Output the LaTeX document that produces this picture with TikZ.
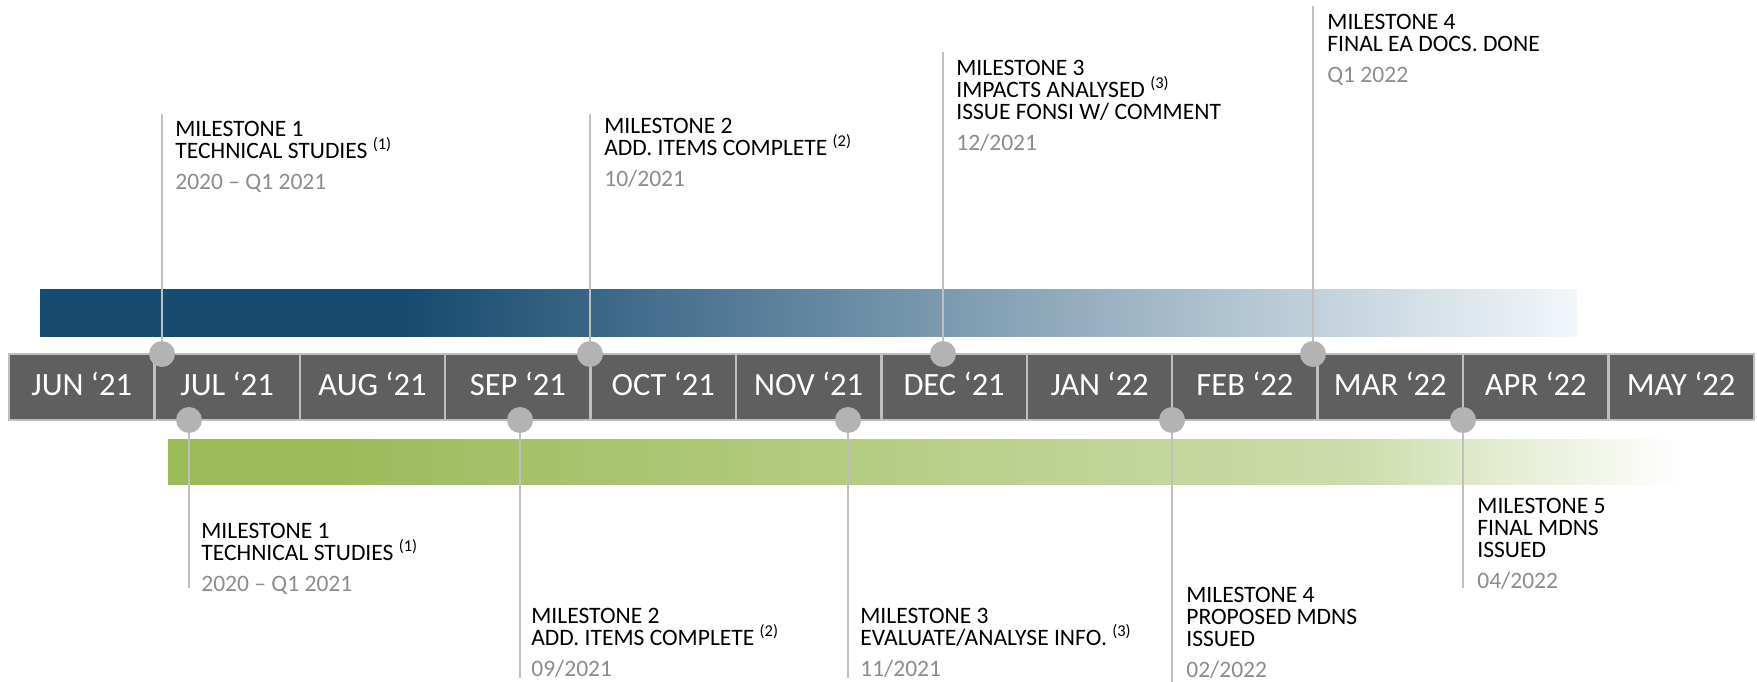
\documentclass[tikz,border=0pt]{standalone}
\usepackage{fontspec}
\setmainfont{Carlito}
\usepackage{xcolor}
\usepackage{tikz}

\definecolor{monthgray}{HTML}{5F5F5F}
\definecolor{linegray}{HTML}{BFBFBF}
\definecolor{dotgray}{HTML}{B3B3B3}
\definecolor{dategray}{HTML}{8C8C8C}
\definecolor{bluedark}{HTML}{174B70}
\definecolor{bluelight}{HTML}{F2F7FA}
\definecolor{greendark}{HTML}{9BBB59}
\definecolor{greenmid}{HTML}{CCDCAA}

\pgfdeclarehorizontalshading{bluefade}{100bp}{color(0bp)=(bluedark); color(37bp)=(bluedark); color(75bp)=(bluelight); color(100bp)=(bluelight)}
\pgfdeclarehorizontalshading{greenfade}{100bp}{color(0bp)=(greendark); color(30bp)=(greendark); color(64bp)=(greenmid); color(75bp)=(white); color(100bp)=(white)}

\begin{document}
\begin{tikzpicture}[x=0.02cm,y=-0.02cm,
  month/.style={draw=linegray,line width=1.4pt,fill=monthgray,text=white,
    minimum width=2.908cm,minimum height=1.32cm,inner sep=0pt,outer sep=0pt,
    text depth=3.5pt,font=\fontsize{18.5}{22}\selectfont},
  dot/.style={circle,fill=dotgray,minimum size=0.52cm,inner sep=0pt},
  stem/.style={linegray,line width=1.3pt},
  mstext/.style={anchor=north west,align=left,inner sep=0pt,
    font=\fontsize{13.4}{12.5}\selectfont}]

\useasboundingbox (0,0) rectangle (1757,682);

% bars
\shade[shading=bluefade] (40,289) rectangle (1577,336);
\shade[shading=greenfade] (168,439) rectangle (1681,484);

% months
\foreach \m [count=\i] in {JUN ‘21,JUL ‘21,AUG ‘21,SEP ‘21,OCT ‘21,NOV ‘21,
    DEC ‘21,JAN ‘22,FEB ‘22,MAR ‘22,APR ‘22,MAY ‘22}
  \node[month] (m\i) at ({9+145.4*(\i-0.5)},387) {\m};

% top milestones
\node[dot] (t1) at (162,354) {};
\node[dot] (t2) at (590,354) {};
\node[dot] (t3) at (943,354) {};
\node[dot] (t4) at (1313,354) {};
\coordinate (t1end) at (162,114);
\coordinate (t2end) at (590,114);
\coordinate (t3end) at (943,52);
\coordinate (t4end) at (1313,6);
\draw[stem] (t1) -- (t1end);
\draw[stem] (t2) -- (t2end);
\draw[stem] (t3) -- (t3end);
\draw[stem] (t4) -- (t4end);

\node[mstext] (t1txt) at (175,121) {MILESTONE 1\\TECHNICAL STUDIES \textsuperscript{(1)}\\[5pt]\textcolor{dategray}{2020 – Q1 2021}};
\node[mstext] (t2txt) at (604,118) {MILESTONE 2\\ADD. ITEMS COMPLETE \textsuperscript{(2)}\\[5pt]\textcolor{dategray}{10/2021}};
\node[mstext] (t3txt) at (956,60) {MILESTONE 3\\IMPACTS ANALYSED \textsuperscript{(3)}\\ISSUE FONSI W/ COMMENT\\[5pt]\textcolor{dategray}{12/2021}};
\node[mstext] (t4txt) at (1327,14) {MILESTONE 4\\FINAL EA DOCS. DONE\\[5pt]\textcolor{dategray}{Q1 2022}};

% bottom milestones
\node[dot] (b1) at (189,420) {};
\node[dot] (b2) at (520,420) {};
\node[dot] (b3) at (848,420) {};
\node[dot] (b4) at (1172,420) {};
\node[dot] (b5) at (1463,420) {};
\coordinate (b1end) at (189,588);
\coordinate (b2end) at (520,678);
\coordinate (b3end) at (848,678);
\coordinate (b4end) at (1172,682);
\coordinate (b5end) at (1463,588);
\draw[stem] (b1) -- (b1end);
\draw[stem] (b2) -- (b2end);
\draw[stem] (b3) -- (b3end);
\draw[stem] (b4) -- (b4end);
\draw[stem] (b5) -- (b5end);

\node[mstext] (b1txt) at (201,523) {MILESTONE 1\\TECHNICAL STUDIES \textsuperscript{(1)}\\[5pt]\textcolor{dategray}{2020 – Q1 2021}};
\node[mstext] (b2txt) at (531,608) {MILESTONE 2\\ADD. ITEMS COMPLETE \textsuperscript{(2)}\\[5pt]\textcolor{dategray}{09/2021}};
\node[mstext] (b3txt) at (860,608) {MILESTONE 3\\EVALUATE/ANALYSE INFO. \textsuperscript{(3)}\\[5pt]\textcolor{dategray}{11/2021}};
\node[mstext] (b4txt) at (1186,587) {MILESTONE 4\\PROPOSED MDNS\\ISSUED\\[5pt]\textcolor{dategray}{02/2022}};
\node[mstext] (b5txt) at (1477,498) {MILESTONE 5\\FINAL MDNS\\ISSUED\\[5pt]\textcolor{dategray}{04/2022}};

\end{tikzpicture}
\end{document}
